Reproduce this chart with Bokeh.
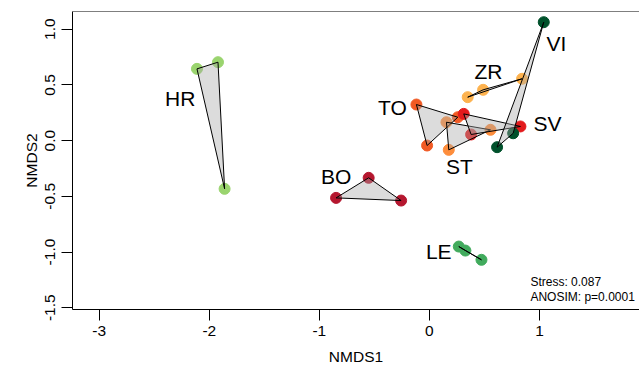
from bokeh.plotting import figure
from bokeh.models import Range1d, FixedTicker, PrintfTickFormatter, Span, ColumnDataSource
from bokeh.core.properties import value
from bokeh.embed import file_html
from bokeh.resources import INLINE

# ---- data ----
groups = ["HR", "BO", "TO", "ST", "SV", "ZR", "VI", "LE"]
hr_x = [-2.112, -1.921, -1.861]
hr_y = [0.644, 0.704, -0.433]
bo_x = [-0.848, -0.552, -0.257]
bo_y = [-0.514, -0.334, -0.538]
to_x = [-0.118, -0.021, 0.258]
to_y = [0.324, -0.044, 0.210]
st_x = [0.155, 0.176, 0.555]
st_y = [0.165, -0.083, 0.097]
sv_x = [0.312, 0.827, 0.379]
sv_y = [0.240, 0.127, 0.055]
zr_x = [0.348, 0.488, 0.842]
zr_y = [0.390, 0.456, 0.555]
vi_x = [1.039, 0.615, 0.761]
vi_y = [1.063, -0.059, 0.066]
le_x = [0.267, 0.327, 0.473]
le_y = [-0.951, -0.987, -1.070]
colors = ["#9ad46e", "#b5172f", "#f15a24", "#fd8d3c", "#e31a1c", "#fdb24e", "#00512b", "#41ab5d"]

label_x = [-2.264, -0.848, -0.336, 0.273, 1.073, 0.536, 1.155, 0.085]
label_y = [0.382, -0.320, 0.297, -0.232, 0.151, 0.620, 0.876, -0.994]

x_ticks = [-3, -2, -1, 0, 1]
y_ticks = [-1.5, -1.0, -0.5, 0.0, 0.5, 1.0]
stats_text = ["Stress: 0.087", "ANOSIM: p=0.0001"]
stats_x = [0.918, 0.918]
stats_y = [-1.271, -1.406]

xs_all = [hr_x, bo_x, to_x, st_x, sv_x, zr_x, vi_x, le_x]
ys_all = [hr_y, bo_y, to_y, st_y, sv_y, zr_y, vi_y, le_y]

FONT = "Liberation Sans"

p = figure(width=639, height=375, output_backend="svg", toolbar_location=None,
           x_range=Range1d(-3.243, 1.909), y_range=Range1d(-1.516, 1.159),
           min_border_left=72, min_border_right=0, min_border_top=11, min_border_bottom=66)
p.grid.visible = False
p.outline_line_color = None
p.background_fill_color = "white"
p.border_fill_color = "white"

# points
px, py, pc = [], [], []
for xs, ys, c in zip(xs_all, ys_all, colors):
    px += xs
    py += ys
    pc += [c] * len(xs)
p.scatter(x="x", y="y", color="c", size=11, source=ColumnDataSource(dict(x=px, y=py, c=pc)))

# hulls
p.patches(xs=xs_all, ys=ys_all, fill_color="#a8a8a8", fill_alpha=0.4,
          line_color="black", line_width=1)

# group labels
p.text(x=label_x, y=label_y, text=groups, text_font=value(FONT), text_font_size="21px",
       text_align="center", text_baseline="middle", text_color="black")

# stats
p.text(x=stats_x, y=stats_y, text=stats_text, text_font=value(FONT), text_font_size="12px",
       text_align="left", text_baseline="middle", text_color="black")

# top border line
p.add_layout(Span(location=1.159, dimension="width", line_color="black", line_width=1))

for ax in (p.xaxis[0], p.yaxis[0]):
    ax.axis_line_color = "black"
    ax.axis_line_width = 1
    ax.major_tick_line_color = "black"
    ax.major_tick_out = 11
    ax.major_tick_in = 0
    ax.minor_tick_line_color = None
    ax.major_label_text_font = FONT
    ax.major_label_text_font_size = "15.5px"
    ax.major_label_text_color = "black"
    ax.axis_label_text_font = FONT
    ax.axis_label_text_font_size = "15.5px"
    ax.axis_label_text_font_style = "normal"
    ax.axis_label_text_color = "black"

p.xaxis[0].ticker = FixedTicker(ticks=x_ticks)
p.xaxis[0].formatter = PrintfTickFormatter(format="%d")
p.xaxis[0].axis_label = "NMDS1"
p.xaxis[0].major_label_standoff = 5
p.xaxis[0].axis_label_standoff = 9

p.yaxis[0].ticker = FixedTicker(ticks=y_ticks)
p.yaxis[0].formatter = PrintfTickFormatter(format="%.1f")
p.yaxis[0].axis_label = "NMDS2"
p.yaxis[0].major_label_orientation = "parallel"
p.yaxis[0].major_label_standoff = 6
p.yaxis[0].axis_label_standoff = 3

open("out.html", "w").write(file_html(p, INLINE))
